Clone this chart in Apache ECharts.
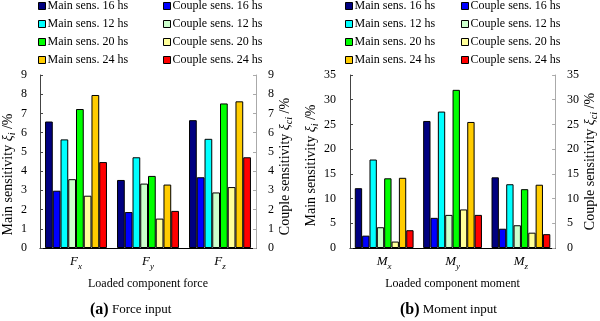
<!DOCTYPE html>
<html>
<head>
<meta charset="utf-8">
<script src="https://cdn.jsdelivr.net/npm/echarts@6/dist/echarts.min.js"></script>
<style>
  html, body { margin: 0; padding: 0; background: #fff; }
  #chart { width: 600px; height: 321px; }
</style>
</head>
<body>
<div id="chart"></div>
<script>
// series names, in the order the bars sit inside a group
const seriesNames = [
  "Main sens. 16 hs", "Couple sens. 16 hs",
  "Main sens. 12 hs", "Couple sens. 12 hs",
  "Main sens. 20 hs", "Couple sens. 20 hs",
  "Main sens. 24 hs", "Couple sens. 24 hs"
];
const seriesColors = ["#000080", "#0000ff", "#00ffff", "#ccffcc", "#00ff00", "#ffff99", "#ffcc00", "#ff0000"];

// (a) force input
const forceCats = ["Fx", "Fy", "Fz"];
const forceMain16 = [6.58, 3.54, 6.65];
const forceCouple16 = [2.98, 1.87, 3.68];
const forceMain12 = [5.65, 4.72, 5.68];
const forceCouple12 = [3.58, 3.35, 2.89];
const forceMain20 = [7.23, 3.75, 7.52];
const forceCouple20 = [2.72, 1.53, 3.17];
const forceMain24 = [7.96, 3.30, 7.63];
const forceCouple24 = [4.47, 1.93, 4.72];

// (b) moment input
const momentCats = ["Mx", "My", "Mz"];
const momentMain16 = [12.1, 25.7, 14.3];
const momentCouple16 = [2.5, 6.1, 3.9];
const momentMain12 = [17.9, 27.6, 12.9];
const momentCouple12 = [4.2, 6.7, 4.6];
const momentMain20 = [14.1, 32.0, 11.9];
const momentCouple20 = [1.3, 7.8, 3.1];
const momentMain24 = [14.2, 25.5, 12.8];
const momentCouple24 = [3.6, 6.7, 2.8];

const forceTicks = { min: 0, max: 9, interval: 1 };
const momentTicks = { min: 0, max: 35, interval: 5 };

const font = "Liberation Serif";

const forceData = [forceMain16, forceCouple16, forceMain12, forceCouple12, forceMain20, forceCouple20, forceMain24, forceCouple24];
const momentData = [momentMain16, momentCouple16, momentMain12, momentCouple12, momentMain20, momentCouple20, momentMain24, momentCouple24];

const subRich = {
  i: { fontFamily: font, fontStyle: "italic", fontSize: 13, lineHeight: 18, verticalAlign: "middle", color: "#000" },
  s: { fontFamily: font, fontStyle: "italic", fontSize: 9, lineHeight: 18, verticalAlign: "bottom", color: "#000" }
};
const nameRich = {
  n: { fontFamily: font, fontSize: 14, lineHeight: 18, verticalAlign: "middle", color: "#000" },
  g: { fontFamily: font, fontStyle: "italic", fontSize: 14, lineHeight: 18, verticalAlign: "middle", color: "#000" },
  s: { fontFamily: font, fontStyle: "italic", fontSize: 10, lineHeight: 18, verticalAlign: "bottom", color: "#000" }
};

function makeX(gridIndex, cats, name) {
  return {
    gridIndex,
    type: "category",
    data: cats,
    name,
    nameLocation: "middle",
    nameGap: 30,
    nameTextStyle: { fontFamily: font, fontSize: 12, color: "#000" },
    axisLine: { lineStyle: { color: "#000", width: 1 } },
    axisTick: { inside: true, length: 3, lineStyle: { color: "#777" } },
    axisLabel: {
      margin: 5,
      formatter: v => "{i|" + v[0] + "}{s|" + v.slice(1) + "}",
      rich: subRich
    }
  };
}

function makeY(gridIndex, pos, ticks, nameText, nameGap, pad, lineColor, labelMargin) {
  return {
    gridIndex,
    type: "value",
    position: pos,
    min: ticks.min,
    max: ticks.max,
    interval: ticks.interval,
    name: nameText,
    nameLocation: "middle",
    nameRotate: 90,
    nameGap,
    nameTextStyle: { rich: nameRich, padding: pad },
    axisLine: { show: true, lineStyle: { color: lineColor, width: 1 } },
    axisTick: { show: true, inside: true, length: 3, lineStyle: { color: lineColor } },
    axisLabel: { margin: labelMargin, fontFamily: font, fontSize: 12, color: "#000" },
    splitLine: { show: false }
  };
}

const mainName = "{n|Main sensitivity }{g|ξ}{s|i}{n| /%}";
const coupleName = "{n|Couple sensitivity }{g|ξ}{s|ci}{n| /%}";

function makeSeries(data, xIndex, yLeft, yRight) {
  return data.map((d, k) => ({
    name: seriesNames[k],
    type: "bar",
    xAxisIndex: xIndex,
    yAxisIndex: k % 2 === 0 ? yLeft : yRight,
    data: d,
    barGap: "0%",
    barCategoryGap: "14%",
    itemStyle: { color: seriesColors[k], borderColor: "#000", borderWidth: 1 }
  }));
}

function makeLegend(left, names) {
  return {
    orient: "vertical",
    left,
    top: 0,
    padding: 0,
    itemGap: 6,
    itemWidth: 7,
    itemHeight: 7,
    icon: "rect",
    itemStyle: { borderColor: "#000", borderWidth: 1 },
    textStyle: { fontFamily: font, fontSize: 12, lineHeight: 12, color: "#000", padding: [0, 0, 0, -3] },
    data: names
  };
}

function makeCaption(tag, text, left) {
  return {
    text: "{b|" + tag + "}{n| " + text + "}",
    left, top: 302, padding: 0,
    textStyle: { rich: {
      b: { fontFamily: font, fontWeight: "bold", fontSize: 16, color: "#000" },
      n: { fontFamily: font, fontWeight: "normal", fontSize: 13, color: "#000" }
    } }
  };
}

const mainNames = seriesNames.filter((n, k) => k % 2 === 0);
const coupleNames = seriesNames.filter((n, k) => k % 2 === 1);

const chart = echarts.init(document.getElementById("chart"), null, { renderer: "canvas" });
chart.setOption({
  animation: false,
  backgroundColor: "#fff",
  title: [
    makeCaption("(a)", "Force input", 90),
    makeCaption("(b)", "Moment input", 400)
  ],
  legend: [
    makeLegend(38, mainNames),
    makeLegend(163, coupleNames),
    makeLegend(345, mainNames),
    makeLegend(461, coupleNames)
  ],
  grid: [
    { left: 40, right: 344, top: 75, bottom: 73 },
    { left: 350, right: 44, top: 75, bottom: 73 }
  ],
  xAxis: [
    makeX(0, forceCats, "Loaded component force"),
    makeX(1, momentCats, "Loaded component moment")
  ],
  yAxis: [
    makeY(0, "left", forceTicks, mainName, 22, [0, 26, 0, 0], "#444", 13),
    makeY(0, "right", forceTicks, coupleName, 20, [0, 10, 0, 0], "#aaa", 12),
    makeY(1, "left", momentTicks, mainName, 27, [0, 8, 0, 0], "#444", 14),
    makeY(1, "right", momentTicks, coupleName, 23, [0, 0, 0, 0], "#aaa", 12)
  ],
  series: [
    ...makeSeries(forceData, 0, 0, 1),
    ...makeSeries(momentData, 1, 2, 3)
  ]
});
</script>
</body>
</html>
